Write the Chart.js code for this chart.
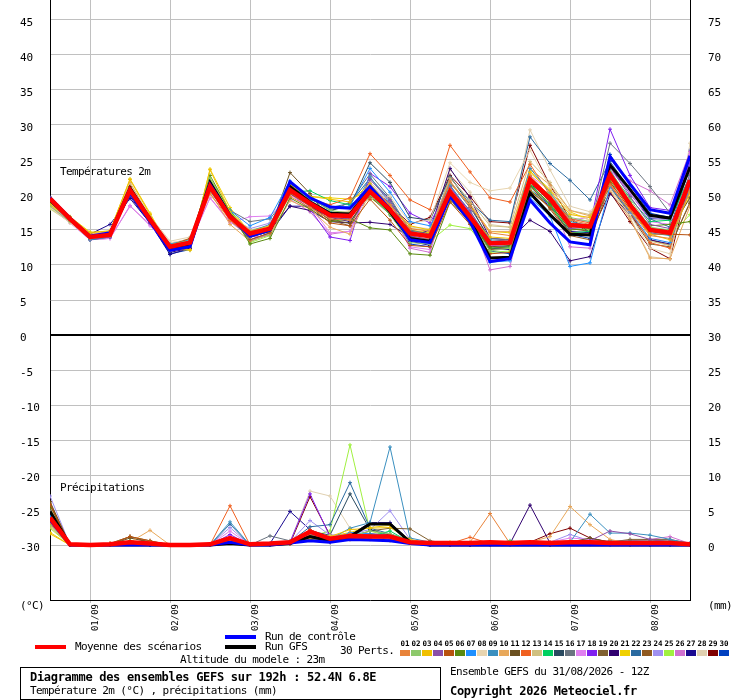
<!DOCTYPE html>
<html>
<head>
<meta charset="utf-8">
<script src="https://cdn.jsdelivr.net/npm/chart.js@4.4.1/dist/chart.umd.min.js"></script>
<style>
  body { margin: 0; background: #fff; }
  #wrap { position: relative; width: 740px; height: 700px; font-family: "DejaVu Sans Mono", monospace; color: #000; overflow: hidden; }
  #chart { position: absolute; left: 0; top: 0; }
  .t { position: absolute; white-space: nowrap; font-size: 11px; letter-spacing: -0.6px; line-height: 12px; }
  .b { font-weight: bold; font-size: 12px; letter-spacing: -0.3px; }
  .sw { position: absolute; }
  .num { position: absolute; width: 11px; text-align: center; font-family: "DejaVu Sans Mono", monospace; font-weight: bold; font-size: 7.5px; line-height: 10px; letter-spacing: 0; }
  #frame { position: absolute; left: 20px; top: 667px; width: 419px; height: 31px; border: 1px solid #000; }
</style>
</head>
<body>
<div id="wrap">
  <canvas id="chart" width="740" height="640"></canvas>
  <div class="t" style="left:60px;top:166px">Températures 2m</div>
  <div class="t" style="left:60px;top:482px">Précipitations</div>
  <div class="t" style="left:20px;top:600px">(°C)</div>
  <div class="t" style="left:708px;top:600px">(mm)</div>

  <div class="sw" style="left:35px;top:645px;width:31px;height:4px;background:#ff0000"></div>
  <div class="t" style="left:75px;top:641px">Moyenne des scénarios</div>
  <div class="sw" style="left:225px;top:635px;width:31px;height:4px;background:#0000ff"></div>
  <div class="t" style="left:265px;top:631px">Run de contrôle</div>
  <div class="sw" style="left:225px;top:645px;width:31px;height:4px;background:#000"></div>
  <div class="t" style="left:265px;top:641px">Run GFS</div>
  <div class="t" style="left:340px;top:645px">30 Perts.</div>
  <div class="t" style="left:180px;top:654px">Altitude du modele : 23m</div>
  <div id="perts"></div>

  <div id="frame"></div>
  <div class="t b" style="left:30px;top:671px">Diagramme des ensembles GEFS sur 192h : 52.4N 6.8E</div>
  <div class="t" style="left:30px;top:685px">Température 2m (°C) , précipitations (mm)</div>
  <div class="t" style="left:450px;top:666px">Ensemble GEFS du 31/08/2026 - 12Z</div>
  <div class="t b" style="left:450px;top:685px">Copyright 2026 Meteociel.fr</div>
</div>
<script>
// time axis: hours after 31/08 12Z, 6h steps
const hours = [0,6,12,18,24,30,36,42,48,54,60,66,72,78,84,90,96,102,108,114,120,126,132,138,144,150,156,162,168,174,180,186,192];
const dayTicks = [12,36,60,84,108,132,156,180];
const dayLabels = ['01/09','02/09','03/09','04/09','05/09','06/09','07/09','08/09'];
const tempTicks = [-30,-25,-20,-15,-10,-5,0,5,10,15,20,25,30,35,40,45];
const mmTicks = [0,5,10,15,20,25,30,35,40,45,50,55,60,65,70,75];

const pertColors = ['#e8833a','#8dc96b','#f0c000','#8b4fa8','#b8520f','#5a8a10','#1e90ff','#e8d5b0','#3a8fbf','#e8a85a',
  '#6b5020','#f06020','#d0c080','#00d060','#2a4a60','#6a7480','#e080f0','#8020f0','#806030','#300070',
  '#f0d000','#2a6aa0','#905a20','#a090f0','#a0f040','#d070d0','#1a0a90','#e0d0b0','#800000','#0040c0'];

// temperature 2m (°C)
const meanT = [19.5,16.6, 14.0,14.3,20.7,16.5, 12.6,13.2,21.2,16.9, 14.5,15.2,20.7,18.8, 17.1,17.0,20.5,17.9, 14.5,14.1,20.5,16.9, 13.1,13.2,22.2,19.5, 15.7,15.5,22.9,18.6, 15.0,14.6,22.1];
const ctrlT = [19.6,16.7, 14.1,14.6,20.3,16.2, 12.1,12.6,21.5,17.0, 14.1,15.0,21.9,19.6, 18.3,18.1,21.2,18.0, 13.6,13.2,19.8,16.2, 10.5,10.9,19.3,16.0, 13.3,12.9,25.5,21.6, 17.9,17.4,25.6];
const gfsT  = [19.3,16.5, 14.0,14.4,21.0,16.6, 12.4,13.0,21.8,17.1, 14.3,15.0,21.2,19.0, 17.4,17.3,20.8,17.6, 13.8,13.4,20.2,16.5, 11.0,11.1,20.3,17.2, 14.4,14.3,24.3,20.8, 17.1,16.7,24.0];

const t01 = [19.2,16.4, 13.9,14.2,20.4,16.2, 12.8,13.4,20.2,16.4, 14.2,15.4,19.8,18.2, 16.6,16.4,21.2,18.6, 15.2,14.8,22.0,18.4, 14.6,14.2,22.8,19.8, 16.4,15.8,21.4,17.8, 14.2,13.8,20.6];
const t02 = [18.4,16.2, 14.2,14.6,21.0,16.8, 12.9,13.5,22.4,17.4, 14.0,15.0,20.4,19.6, 17.8,17.4,20.0,17.2, 13.2,13.0,19.6,16.2, 12.0,12.4,21.6,20.2, 16.8,16.2,23.4,19.4, 15.4,15.0,21.8];
const t03 = [18.6,16.8, 14.6,14.9,22.2,17.2, 12.4,12.2,23.6,17.6, 14.8,15.6,21.4,19.8, 19.4,19.0,21.6,18.4, 15.6,15.0,20.8,17.0, 14.0,13.8,23.2,20.6, 17.2,16.8,22.4,18.2, 14.4,13.6,20.4];
const t04 = [19.4,16.5, 13.8,14.0,20.2,16.0, 12.2,13.0,21.0,16.8, 14.4,15.2,20.6,18.6, 16.8,16.6,22.2,19.2, 14.2,13.6,21.0,17.8, 13.0,13.2,22.6,19.2, 15.2,15.4,24.0,19.8, 15.8,15.2,23.0];
const t05 = [19.6,16.7, 14.1,14.4,21.2,16.6, 12.8,13.8,21.4,17.2, 13.6,14.6,20.2,18.4, 16.0,15.6,19.4,16.4, 12.8,12.6,19.0,15.8, 11.6,11.8,20.6,18.2, 14.6,14.4,21.8,18.0, 14.4,14.4,14.3];
const t06 = [19.0,16.4, 13.9,14.3,20.8,16.6, 12.6,13.2,22.8,17.6, 13.0,13.8,19.6,18.0, 16.2,16.6,15.3,15.0, 11.6,11.4,19.0,16.4, 12.4,12.6,21.4,18.8, 15.0,15.2,22.0,18.8, 15.6,15.8,16.2];
const t07 = [19.5,16.6, 14.0,14.4,20.6,16.8, 13.0,13.6,21.0,17.8, 15.6,16.8,22.0,19.4, 18.2,18.4,23.8,20.4, 16.2,15.6,20.4,16.0, 10.4,10.6,19.6,17.0, 9.8,10.3,21.2,17.6, 13.8,13.2,21.0];
const t08 = [18.2,16.0, 13.8,14.2,21.4,17.0, 13.2,13.6,20.0,16.6, 14.6,15.4,20.8,18.8, 17.2,17.8,19.4,19.8, 16.0,16.4,24.6,21.8, 20.6,21.0,26.4,21.0, 17.4,16.4,20.8,17.2, 12.4,11.6,23.0];
const t09 = [19.1,16.3, 13.6,14.0,20.0,16.2, 12.0,12.8,20.6,16.6, 14.8,15.8,21.6,19.2, 17.6,17.2,22.6,18.8, 14.4,14.0,21.4,17.6, 13.6,13.4,23.8,20.4, 16.2,15.6,23.6,19.0, 14.6,14.2,22.6];
const t10 = [18.8,16.6, 14.4,14.8,21.8,16.8, 12.8,13.4,20.4,15.8, 13.4,14.4,19.2,18.0, 15.4,14.4,20.4,17.4, 13.8,13.8,21.6,18.8, 14.8,14.8,23.8,21.4, 17.8,17.0,20.6,16.6, 11.0,10.9,18.4];
const t11 = [19.3,16.5, 14.0,14.5,20.5,16.4, 12.6,13.2,21.6,17.0, 14.4,15.0,23.2,20.2, 16.4,16.0,20.6,17.8, 14.4,14.0,20.2,16.6, 12.6,12.8,21.8,19.0, 15.4,15.6,22.6,18.4, 15.2,15.0,19.6];
const t12 = [19.4,16.6, 14.0,14.3,20.9,16.2, 12.4,13.0,21.2,16.4, 14.2,15.2,20.8,19.4, 18.6,19.6,25.9,22.8, 19.3,17.9,27.1,23.3, 19.6,19.0,24.4,20.0, 16.6,16.0,21.6,17.6, 13.2,12.4,21.4];
const t13 = [18.6,16.4, 14.1,14.5,21.2,16.8, 13.0,13.8,21.8,17.4, 15.0,15.6,21.0,19.2, 17.6,17.6,21.4,18.6, 15.2,15.0,22.4,19.2, 15.6,15.4,24.8,21.8, 17.8,17.2,22.2,17.8, 13.4,12.8,20.8];
const t14 = [19.5,16.6, 14.0,14.4,20.4,16.4, 12.6,13.2,21.2,17.8, 14.4,15.4,20.4,20.6, 19.2,18.6,20.2,17.2, 13.6,13.4,20.6,16.6, 12.4,12.6,21.6,18.6, 14.6,14.8,23.2,19.6, 16.2,16.4,22.8];
const t15 = [19.4,16.5, 13.6,14.0,20.6,16.2, 12.2,12.8,21.4,17.2, 14.0,14.8,21.8,19.6, 17.8,18.4,24.6,21.8, 16.8,16.4,22.6,18.6, 13.4,13.2,21.6,19.4, 16.8,14.6,21.8,18.4, 14.8,14.4,22.0];
const t16 = [19.2,16.4, 13.8,14.2,20.4,16.6, 12.8,13.6,21.0,17.8, 16.2,16.6,20.2,18.6, 17.6,19.0,23.0,19.6, 15.0,14.4,21.8,18.2, 13.8,13.6,22.6,19.8, 15.6,15.2,27.4,24.5, 21.2,17.4,23.6];
const t17 = [18.4,16.0, 13.6,13.8,18.5,15.6, 12.6,13.0,19.6,16.0, 16.9,17.0,20.0,18.4, 14.6,14.8,21.0,18.2, 12.6,12.2,20.4,16.8, 12.8,13.0,22.8,20.6, 16.4,16.8,23.6,20.4, 16.2,15.8,25.8];
const t18 = [19.0,16.3, 13.8,14.2,20.6,16.4, 12.4,13.0,20.8,16.8, 14.4,15.2,20.2,18.0, 14.0,13.5,23.1,21.2, 17.4,16.0,21.2,17.4, 12.8,12.6,22.0,19.4, 15.8,15.6,29.4,22.8, 18.2,17.8,24.6];
const t19 = [19.3,16.5, 13.9,14.3,20.8,16.6, 12.7,13.4,21.6,17.4, 14.2,15.0,20.6,18.4, 16.4,15.6,20.8,18.0, 14.0,13.6,20.0,16.4, 12.2,12.4,21.2,18.6, 15.2,14.8,21.2,17.2, 13.0,12.6,19.0];
const t20 = [19.6,16.8, 14.2,14.6,19.8,16.0, 11.8,12.4,20.8,17.0, 14.0,15.0,18.4,17.8, 16.2,16.0,16.1,15.8, 14.0,15.0,23.8,19.6, 13.8,13.6,16.4,14.8, 10.6,11.2,20.2,17.2, 13.6,13.0,21.2];
const t21 = [18.3,16.9, 14.7,14.8,22.3,17.4, 12.3,12.1,23.7,18.2, 14.6,15.4,21.2,19.8, 19.6,19.4,20.6,18.0, 15.0,14.6,21.8,18.6, 14.8,14.6,23.4,20.8, 17.6,16.4,23.0,19.0, 15.2,14.6,19.8];
const t22 = [19.5,16.6, 14.1,14.5,20.6,16.4, 12.2,12.6,21.4,17.0, 13.4,14.4,21.6,19.6, 18.2,18.8,22.4,19.4, 14.8,14.6,22.6,19.0, 16.4,16.2,28.3,24.5, 22.1,19.3,24.8,20.8, 16.6,15.4,24.0];
const t23 = [19.4,16.6, 14.3,14.6,21.2,16.8, 13.0,13.6,21.0,16.4, 14.0,14.8,20.8,18.8, 16.8,17.2,19.8,17.2, 14.8,14.0,19.4,16.0, 13.0,13.4,21.4,18.0, 14.2,13.6,21.4,17.4, 13.6,12.8,18.8];
const t24 = [18.8,16.6, 14.2,14.4,20.0,16.4, 12.4,13.0,20.6,16.8, 15.2,16.0,20.4,18.8, 17.4,17.2,21.6,18.8, 14.2,13.6,20.0,16.8, 12.6,12.6,22.4,19.8, 16.6,16.2,24.4,20.2, 16.8,16.4,24.2];
const t25 = [18.1,16.2, 14.0,14.4,20.6,16.8, 12.8,13.4,22.4,17.8, 13.2,14.2,20.2,19.4, 18.0,18.2,19.6,17.6, 13.6,13.4,15.7,15.2, 11.8,12.0,20.8,18.2, 15.2,15.0,22.6,19.0, 15.2,14.2,17.2];
const t26 = [18.6,16.2, 13.6,13.8,18.4,15.8, 12.6,13.2,19.6,16.2, 14.0,14.2,19.4,17.6, 14.4,14.8,21.2,18.0, 12.4,11.8,21.4,17.2, 9.3,9.8,22.0,19.6, 12.6,12.4,25.2,22.0, 20.6,18.6,26.2];
const t27 = [19.7,16.8, 14.4,15.8,19.5,16.0, 11.5,12.4,21.6,17.6, 13.6,14.6,18.4,18.4, 16.8,16.2,20.0,17.2, 13.4,12.8,19.8,16.6, 12.4,12.2,20.6,18.4, 14.8,14.6,24.0,20.2, 16.6,16.6,25.2];
const t28 = [18.0,16.1, 13.9,14.3,21.6,17.0, 13.4,14.0,21.8,17.0, 14.8,15.6,21.0,19.0, 17.0,17.6,21.8,19.2, 15.4,15.2,23.6,20.4, 15.8,15.4,29.3,23.6, 18.4,17.6,21.0,16.8, 11.2,10.8,27.4];
const t29 = [19.2,16.4, 13.9,14.2,20.8,16.4, 12.6,13.2,21.2,16.8, 14.4,15.0,20.6,18.6, 16.4,16.8,21.2,18.8, 15.8,16.8,22.8,19.8, 16.2,16.0,27.1,21.4, 16.6,14.4,20.4,16.2, 12.4,10.9,22.4];
const t30 = [19.6,16.6, 13.9,14.2,20.2,16.2, 11.6,12.2,21.4,17.2, 14.0,14.8,21.4,19.6, 18.4,18.2,20.4,17.6, 13.0,12.6,20.2,17.0, 12.0,11.6,20.8,18.6, 14.4,13.8,25.8,21.4, 17.4,16.8,26.4];

// precipitation (mm per 6h)
const meanP = [3.9,0.1, 0,0.1,0.4,0.2, 0,0,0.1,1.0, 0.1,0.2,0.4,1.9, 0.9,1.3,1.2,1.2, 0.4,0.3,0.3,0.3, 0.4,0.3,0.4,0.3, 0.4,0.4,0.3,0.3, 0.3,0.3,0.1];
const ctrlP = [3.6,0, 0,0,0,0, 0,0,0,0.4, 0,0,0.3,0.6, 0.4,0.8,0.7,0.6, 0.2,0,0,0, 0,0,0,0, 0,0,0,0, 0,0,0];
const gfsP  = [4.8,0, 0,0,0,0, 0,0,0,0.2, 0,0,0.2,1.2, 0.6,1.2,3.0,3.0, 0.4,0,0,0, 0,0,0,0, 0,0,0,0, 0,0,0];

const r01 = [3.2,0, 0,0.2,0.4,0.2, 0,0,0,0.6, 0,0,0.2,1.4, 0.8,1.6,1.2,1.0, 0.4,0.2,0,0.4, 4.5,0.2,0.2,0.4, 0.6,0.4,0.2,0.2, 0.2,0.2,0];
const r02 = [2.8,0, 0,0,0.3,0.3, 0,0,0,0.8, 0,0.1,0.3,1.8, 0.6,1.2,2.0,1.6, 0.6,0.2,0.2,0.2, 0.2,0.2,0.2,0.2, 0.4,0.2,0.2,0.2, 0.2,0.2,0.1];
const r03 = [1.6,0, 0,0,0.4,0.2, 0,0,0,0.6, 0,0,0.4,1.0, 1.2,2.2,2.4,2.5, 0.8,0.2,0.2,0.2, 0.2,0.4,0.2,0.2, 0.2,0.2,0.2,0, 0.2,0,0];
const r04 = [4.6,0, 0,0,0.2,0.2, 0,0,0,1.0, 0,0,0.2,2.0, 1.0,1.4,1.2,0.8, 0.4,0.2,0.2,0, 0,0.2,0.2,0.2, 0.4,0.6,2.0,1.6, 0.8,0.4,0.2];
const r05 = [5.8,0, 0,0.2,1.2,0.6, 0,0,0,0.4, 0,0,0.2,0.8, 0.4,0.8,1.0,1.4, 0.6,0.2,0,0, 0.2,0.2,0.2,0, 0.2,0.2,0.2,0.2, 0.2,0.2,0];
const r06 = [5.2,0, 0,0,0.6,0.2, 0,0,0,0.4, 0,0,0.2,1.2, 0.6,1.0,1.4,1.2, 0.4,0,0.2,0.2, 0.2,0.2,0.2,0.2, 0.2,0.2,0.2,0, 0,0,0];
const r07 = [4.2,0, 0,0,0.2,0, 0,0,0,0.8, 0,0,0.4,1.6, 0.4,1.8,1.6,1.2, 0.4,0,0,0.2, 0.2,0,0.2,0, 0.2,0.2,0,0.2, 0.2,0,0];
const r08 = [3.4,0, 0,0,0.4,0.4, 0,0,0,0.4, 0,0,0.2,1.6, 1.2,1.4,0.8,0.6, 0.2,0.2,0.2,0.2, 0.2,0.2,0.2,0.2, 0.2,0,0.2,0.2, 0.2,0.2,0];
const r09 = [4.4,0, 0,0,0.2,0, 0,0,0,3.3, 0,0,0.2,1.2, 0.8,2.4,3.2,14.0, 1.0,0.4,0.2,0.2, 0.2,0.2,0.2,0.2, 0.4,4.4,1.7,1.7, 1.4,0.8,0.2];
const r10 = [2.6,0, 0,0.2,0.4,2.1, 0,0,0,0.6, 0,0,0.2,1.4, 1.0,1.2,1.0,0.8, 0.4,0.2,0.2,0.2, 0.2,0.2,0.4,1.2, 5.5,2.9,0.8,0.2, 0.2,0.2,0];
const r11 = [6.2,0, 0,0,1.0,0.4, 0,0,0,0.4, 0,0,0.2,1.0, 0.6,1.0,1.2,1.4, 0.6,0.2,0.2,0.2, 0.2,0.2,0.2,0.2, 0.4,1.0,0.4,0.2, 0.2,0.2,0];
const r12 = [3.0,0, 0,0,0.3,0.2, 0,0,0,5.6, 0,0,0.2,2.2, 1.0,1.6,1.4,1.2, 0.4,0.2,0.2,1.1, 0.2,0.2,0.2,0.2, 0.2,0.2,0.2,0.2, 0.2,0.2,0];
const r13 = [3.6,0, 0,0,0.4,0.2, 0,0,0,0.6, 0,0,0.2,1.2, 1.4,1.2,0.8,0.6, 0.2,0.2,0.2,0.2, 0.2,0.2,0.2,0.2, 0.2,0.2,0.2,0.2, 0.2,0.2,0.1];
const r14 = [4.0,0, 0,0,0.2,0, 0,0,0,0.4, 0,0,0.2,0.8, 0.6,1.0,1.2,2.0, 0.4,0.2,0.2,0.2, 0.2,0.6,0.2,0.2, 0.2,0.2,0.2,0.2, 0,0,0];
const r15 = [4.4,0, 0,0,0.2,0.2, 0,0,0,0.8, 0,0,0.4,2.0, 1.4,7.3,2.2,1.4, 0.4,0.2,0,0, 0.2,0.2,0.2,0.2, 0.2,0.2,0.2,0.2, 0.2,0.2,0];
const r16 = [3.8,0, 0,0,0.2,0.2, 0,0,0,0.4, 0,1.3,0.6,1.0, 0.8,1.0,1.6,1.4, 0.6,0.2,0.2,0.2, 0.2,0.2,0.2,0.2, 0.4,0.4,0.6,0.6, 0.6,0.7,0.2];
const r17 = [5.0,0, 0,0,0.2,0.2, 0,0,0,2.0, 0,0,0.2,1.4, 1.0,1.4,1.2,1.6, 0.4,0.2,0.2,0.2, 0.2,0.2,0.2,0.4, 1.0,0.8,0.2,0.2, 0.2,0.2,0];
const r18 = [4.8,0, 0,0,0.3,0.2, 0,0,0,1.5, 0,0,0.4,7.3, 1.2,1.4,1.6,1.4, 0.6,0.2,0.2,0.2, 0.2,0.2,0.2,0.2, 0.2,0.2,0.2,0.2, 0.2,0.2,0];
const r19 = [6.0,0, 0,0.2,1.2,0.6, 0,0,0,0.4, 0,0,0.2,1.2, 0.8,1.2,2.0,2.4, 2.3,0.6,0.2,0.2, 0.2,0.2,0.2,0.2, 0.4,0.8,0.4,0.8, 0.8,0.8,0.2];
const r20 = [3.4,0, 0,0,0.2,0, 0,0,0,0.4, 0,0,0.2,1.0, 0.6,1.0,1.4,1.2, 0.4,0.2,0,0, 0.2,0.2,5.7,0.3, 0.2,0.2,0.4,0.2, 0.2,0.2,0];
const r21 = [1.8,0, 0,0,0.4,0.2, 0,0,0,0.6, 0,0,0.2,1.6, 1.2,1.8,2.5,2.8, 0.6,0.2,0.4,0.2, 0.2,0.2,0.2,0.2, 0.2,0.2,0.2,0.2, 0.2,0,0];
const r22 = [4.2,0, 0,0,0.2,0.2, 0,0,0,3.0, 0,0,0.4,2.6, 2.9,8.9,2.4,1.6, 0.6,0.2,0.2,0.2, 0.2,0.2,0.2,0.2, 0.2,0.2,0.2,0.2, 0.2,0.2,0];
const r23 = [5.6,0, 0,0,1.2,0.4, 0,0,0,0.4, 0,0,0.2,1.4, 0.8,1.2,1.2,1.6, 0.6,0.2,0.2,0.2, 0.2,0.2,0.2,0.2, 0.2,0.2,0.4,0.4, 0.2,0.4,0];
const r24 = [7.0,0, 0,0,0.2,0.2, 0,0,0,2.5, 0,0,0.4,3.5, 1.4,1.6,2.2,4.9, 0.8,0.2,0.2,0.2, 0.2,0.2,0.2,0.4, 1.5,0.6,0.4,0.2, 0.2,0.2,0];
const r25 = [2.4,0, 0,0,0.4,0.2, 0,0,0,0.4, 0,0,0.2,1.2, 2.0,14.3,2.0,1.2, 0.4,0.2,0.2,0.2, 0.2,0.2,0.2,0.2, 0.2,0.2,0.2,0.2, 0.2,0.2,0];
const r26 = [4.4,0, 0,0,0.2,0.2, 0,0,0,1.2, 0,0,0.2,1.2, 0.6,1.0,1.4,1.0, 0.4,0.2,0.2,0.2, 0.2,0.2,0.2,0.2, 0.2,0.2,0.4,0.6, 0.8,1.2,0.2];
const r27 = [5.0,0, 0,0,0.2,0, 0,0,0,0.6, 0,0.2,4.8,2.2, 1.0,1.4,3.2,3.2, 0.6,0.2,0.2,0.2, 0.2,0.2,0.2,0.2, 0.2,0.2,0.2,0.2, 0.2,0.2,0];
const r28 = [3.2,0, 0,0,0.3,0.2, 0,0,0,0.6, 0,0,0.4,7.7, 7.0,2.4,1.6,1.2, 0.4,0.2,0.2,0.2, 0.2,0.2,0.2,0.2, 0.2,0.2,0.2,0.2, 0.2,0.2,0];
const r29 = [4.6,0, 0,0,0.2,0.2, 0,0,0,0.6, 0,0,0.2,6.9, 1.4,1.2,1.2,1.0, 0.4,0.2,0.2,0.2, 0.2,0.2,0.4,1.6, 2.4,1.0,0.4,0.2, 0.2,0.2,0];
const r30 = [4.0,0, 0,0,0.2,0.2, 0,0,0,0.6, 0,0,0.2,1.4, 0.8,1.4,1.4,1.2, 0.4,0.2,0.2,0.2, 0.2,0.2,0.2,0.2, 0.2,0.2,0.2,0.2, 0.2,0.2,0];

const tempPerts = [t01,t02,t03,t04,t05,t06,t07,t08,t09,t10,t11,t12,t13,t14,t15,t16,t17,t18,t19,t20,t21,t22,t23,t24,t25,t26,t27,t28,t29,t30];
const rainPerts = [r01,r02,r03,r04,r05,r06,r07,r08,r09,r10,r11,r12,r13,r14,r15,r16,r17,r18,r19,r20,r21,r22,r23,r24,r25,r26,r27,r28,r29,r30];

// legend of the perturbations
const pertBox = document.getElementById('perts');
pertColors.forEach((c, i) => {
  const n = document.createElement('div');
  n.className = 'num';
  n.style.left = (400 + 11 * i - 0.5) + 'px';
  n.style.top = '639px';
  n.textContent = String(i + 1).padStart(2, '0');
  pertBox.appendChild(n);
  const s = document.createElement('div');
  s.className = 'sw';
  s.style.cssText = 'left:' + (400 + 11 * i) + 'px;top:650px;width:10px;height:6px;background:' + c;
  pertBox.appendChild(s);
});

const toXY = arr => arr.map((v, i) => ({ x: hours[i], y: v }));

function thick(data, color, width, axis, order) {
  return { data: toXY(data), borderColor: color, backgroundColor: color, borderWidth: width,
           pointRadius: 0, yAxisID: axis, order: order };
}
function thin(data, color, axis) {
  return { data: toXY(data), borderColor: color, backgroundColor: color, borderWidth: 1,
           pointStyle: 'cross', pointRadius: 2, pointBorderWidth: 1, pointBorderColor: color,
           yAxisID: axis, order: 3 };
}

const datasets = [
  thick(meanT, '#ff0000', 4.5, 'y', 0),
  thick(meanP, '#ff0000', 4.5, 'yP', 0),
  thick(ctrlT, '#0000ff', 3, 'y', 1),
  thick(ctrlP, '#0000ff', 3, 'yP', 1),
  thick(gfsT, '#000000', 3, 'y', 2),
  thick(gfsP, '#000000', 3, 'yP', 2)
];
tempPerts.forEach((d, i) => datasets.push(thin(d, pertColors[i], 'y')));
rainPerts.forEach((d, i) => datasets.push(thin(d, pertColors[i], 'yP')));

Chart.defaults.font.family = '"DejaVu Sans Mono", monospace';
Chart.defaults.font.size = 11;
Chart.defaults.color = '#000';

new Chart(document.getElementById('chart'), {
  type: 'line',
  data: { datasets: datasets },
  options: {
    responsive: false,
    animation: false,
    layout: { autoPadding: false, padding: { left: 20, top: 0, right: 0, bottom: 0 } },
    elements: { line: { tension: 0 } },
    plugins: { legend: { display: false }, tooltip: { enabled: false } },
    scales: {
      x: {
        type: 'linear', min: 0, max: 192,
        afterBuildTicks: s => { s.ticks = dayTicks.map(v => ({ value: v })); },
        afterFit: s => { s.height = 40; s.paddingLeft = 0; s.paddingRight = 0; },
        ticks: { autoSkip: false, maxRotation: 90, minRotation: 90, padding: 1, labelOffset: 6,
                 font: { size: 9 }, callback: (v, i) => dayLabels[i] },
        grid: { color: '#c0c0c0', tickColor: '#c0c0c0', tickLength: 3 },
        border: { color: '#000', width: 1 }
      },
      y: {
        position: 'left', min: -37.857, max: 47.857,
        afterBuildTicks: s => { s.ticks = tempTicks.map(v => ({ value: v })); },
        afterFit: s => { s.width = 30; s.paddingTop = 0; s.paddingBottom = 0; },
        ticks: { crossAlign: 'far', labelOffset: 3, callback: v => String(v) },
        grid: {
          drawTicks: false,
          color: c => (c.tick && c.tick.value === 0) ? '#000' : '#c0c0c0',
          lineWidth: c => (c.tick && c.tick.value === 0) ? 2 : 1
        },
        border: { color: '#000', width: 1 }
      },
      yP: {
        position: 'right', min: -7.857, max: 77.857,
        afterBuildTicks: s => { s.ticks = mmTicks.map(v => ({ value: v })); },
        afterFit: s => { s.width = 50; s.paddingTop = 0; s.paddingBottom = 0; },
        ticks: { padding: 18, labelOffset: 3, callback: v => String(v) },
        grid: { drawOnChartArea: false, drawTicks: false },
        border: { color: '#000', width: 1 }
      }
    }
  }
});
</script>
</body>
</html>
